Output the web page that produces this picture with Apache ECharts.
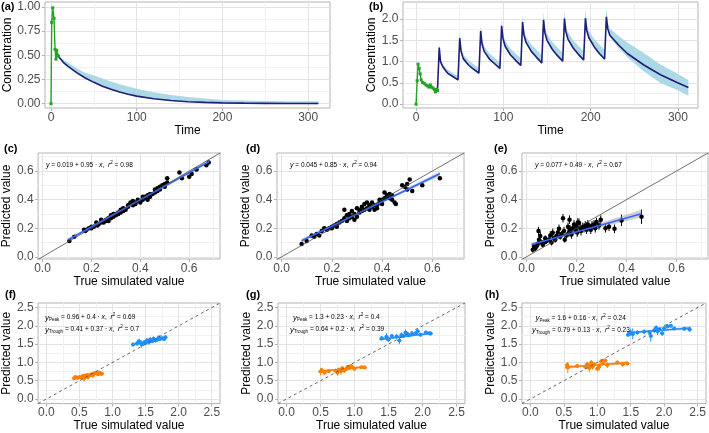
<!DOCTYPE html>
<html><head><meta charset="utf-8">
<script src="https://cdn.jsdelivr.net/npm/echarts@6/dist/echarts.min.js"></script>
<style>html,body{margin:0;padding:0;background:#fff}#c{width:709px;height:433px}</style>
</head><body><div id="c"></div>
<script>
const FONT = '"Liberation Sans", Arial, Helvetica, sans-serif';

// ---------------- DATA ----------------
// (a) single dose
const A_GREEN_T = [0, 0.8, 2, 3.5, 4.7, 5.8, 6.6, 7.8, 8.6];
const A_GREEN_C = [0, 0.84, 0.99, 0.88, 0.56, 0.46, 0.55, 0.50, 0.49];
const A_T    = [8.6, 15, 20, 30, 40, 50, 60, 70, 80, 90, 100, 120, 140, 160, 180, 200, 225, 250, 275, 300, 312];
const A_MEAN = [0.49, 0.42, 0.385, 0.32, 0.265, 0.22, 0.18, 0.148, 0.12, 0.097, 0.078, 0.05, 0.032, 0.02, 0.013, 0.008, 0.005, 0.003, 0.002, 0.001, 0.001];
const A_LO   = [0.48, 0.41, 0.375, 0.31, 0.255, 0.212, 0.172, 0.14, 0.113, 0.091, 0.072, 0.045, 0.027, 0.016, 0.009, 0.005, 0.002, 0.0, -0.002, -0.003, -0.003];
const A_HI   = [0.49, 0.45, 0.425, 0.365, 0.32, 0.29, 0.26, 0.228, 0.2, 0.176, 0.153, 0.118, 0.09, 0.068, 0.052, 0.038, 0.032, 0.028, 0.026, 0.025, 0.025];

// (b) multiple doses
const B_GREEN_T = [0, 1.2, 2.3, 3.5, 4.7, 5.8, 7.4, 9.3, 11.3, 13.2, 14.8, 16.3, 17.9, 19.5, 21, 22.2, 23.5, 24.5];
const B_GREEN_C = [0, 0.55, 0.94, 0.84, 0.71, 0.57, 0.51, 0.49, 0.45, 0.43, 0.40, 0.45, 0.40, 0.375, 0.34, 0.29, 0.35, 0.32];
const B_T = [24.5,26.5,28,30.5,36,42, 48,50,51.5,54,60,66, 72,74,75.5,78,84,90, 96,98,99.5,102,108,114,
             120,122,123.5,126,132,138, 144,146,147.5,150,156,162, 168,170,171.5,174,180,186,
             192,194,195.5,198,204,210, 216,218,219.5,222,232,242,261,280,299,312];
const B_MEAN = [0.32,1.33,1.00,0.88,0.73,0.65, 0.57,1.55,1.25,1.07,0.92,0.82, 0.73,1.72,1.42,1.24,1.06,0.95,
                0.84,1.84,1.55,1.36,1.16,1.03, 0.91,1.93,1.63,1.45,1.24,1.10, 0.97,1.98,1.68,1.50,1.29,1.14,
                1.01,2.01,1.71,1.53,1.32,1.17, 1.04,2.02,1.73,1.56,1.35,1.19, 1.06,2.05,1.78,1.62,1.39,1.19,0.92,0.69,0.51,0.39];
const B_LO = [0.31,1.30,0.98,0.86,0.71,0.63, 0.55,1.52,1.23,1.05,0.90,0.80, 0.70,1.69,1.40,1.22,1.04,0.93,
              0.81,1.80,1.53,1.34,1.14,1.00, 0.88,1.89,1.61,1.43,1.21,1.07, 0.93,1.94,1.66,1.48,1.26,1.11,
              0.97,1.97,1.69,1.51,1.29,1.14, 1.00,1.98,1.71,1.54,1.32,1.16, 1.02,2.01,1.75,1.57,1.32,1.10,0.77,0.50,0.33,0.20];
const B_HI = [0.33,1.43,1.07,0.95,0.81,0.73, 0.66,1.67,1.34,1.17,1.03,0.94, 0.85,1.86,1.53,1.36,1.19,1.09,
              0.98,2.00,1.67,1.49,1.31,1.19, 1.07,2.11,1.77,1.59,1.40,1.28, 1.15,2.17,1.83,1.65,1.46,1.33,
              1.20,2.22,1.87,1.69,1.50,1.37, 1.24,2.25,1.90,1.72,1.53,1.40, 1.27,2.29,1.94,1.78,1.60,1.45,1.20,0.93,0.72,0.57];

// (c) points [true, predicted]
const C_PTS = [[0.11,0.11],[0.13,0.14],[0.17,0.19],[0.175,0.18],[0.18,0.19],[0.19,0.2],[0.2,0.21],[0.2,0.2],[0.21,0.21],
 [0.22,0.24],[0.225,0.22],[0.23,0.23],[0.24,0.26],[0.24,0.24],[0.25,0.25],[0.25,0.24],[0.26,0.26],[0.26,0.25],[0.27,0.25],
 [0.27,0.27],[0.28,0.27],[0.28,0.29],[0.29,0.3],[0.29,0.28],[0.3,0.3],[0.3,0.29],[0.31,0.31],[0.31,0.3],[0.32,0.33],[0.32,0.31],
 [0.33,0.32],[0.33,0.34],[0.34,0.33],[0.35,0.35],[0.35,0.36],[0.36,0.37],[0.36,0.38],[0.37,0.36],[0.37,0.39],[0.38,0.37],
 [0.38,0.38],[0.39,0.4],[0.39,0.39],[0.4,0.38],[0.4,0.39],[0.41,0.4],[0.41,0.42],[0.42,0.42],[0.42,0.41],[0.43,0.43],[0.43,0.4],
 [0.44,0.42],[0.44,0.44],[0.45,0.44],[0.46,0.45],[0.46,0.47],[0.47,0.46],[0.47,0.48],[0.48,0.47],[0.48,0.49],[0.49,0.5],
 [0.5,0.5],[0.5,0.49],[0.5,0.51],[0.51,0.52],[0.51,0.55],[0.56,0.59],[0.57,0.55],[0.6,0.56],[0.61,0.58],[0.63,0.61],[0.67,0.64],[0.68,0.66]];
const C_ERR = 0.008;
const C_FIT = [[0.105,0.12],[0.682,0.667]];
const C_BAND = [[0.105,0.11,0.13],[0.39,0.386,0.394],[0.682,0.656,0.678]];

// (d)
const D_PTS = [[0.08,0.09],[0.1,0.11],[0.12,0.15],[0.13,0.14],[0.14,0.16],[0.15,0.15],[0.16,0.18],[0.17,0.2],[0.18,0.19],
 [0.19,0.2],[0.2,0.21],[0.2,0.2],[0.21,0.22],[0.22,0.21],[0.22,0.23],[0.23,0.24],[0.24,0.25],[0.25,0.33],[0.25,0.27],[0.26,0.29],
 [0.26,0.25],[0.27,0.27],[0.27,0.3],[0.28,0.32],[0.28,0.28],[0.29,0.26],[0.29,0.3],[0.3,0.34],[0.3,0.28],[0.31,0.31],[0.31,0.33],
 [0.32,0.35],[0.32,0.32],[0.33,0.37],[0.33,0.33],[0.34,0.38],[0.34,0.34],[0.35,0.36],[0.35,0.33],[0.36,0.35],[0.36,0.38],
 [0.37,0.36],[0.37,0.33],[0.38,0.36],[0.38,0.34],[0.39,0.38],[0.39,0.4],[0.4,0.4],[0.4,0.37],[0.41,0.45],[0.41,0.41],[0.42,0.43],
 [0.42,0.42],[0.43,0.44],[0.43,0.41],[0.44,0.4],[0.44,0.43],[0.45,0.38],[0.455,0.37],[0.48,0.5],[0.49,0.49],[0.5,0.47],
 [0.5,0.51],[0.51,0.54],[0.52,0.46],[0.56,0.5],[0.63,0.55]];
const D_ERR = 0.01;
const D_FIT = [[0.08,0.113],[0.63,0.581]];
const D_BAND = [[0.08,0.1,0.126],[0.35,0.337,0.347],[0.63,0.565,0.597]];

// (e) [true, predicted, half error]
const E_PTS = [[0.025,0.05,0.02],[0.03,0.07,0.02],[0.035,0.06,0.02],[0.04,0.075,0.02],[0.045,0.09,0.02],[0.048,0.18,0.03],
 [0.05,0.12,0.02],[0.055,0.145,0.03],[0.06,0.1,0.02],[0.065,0.085,0.02],[0.07,0.1,0.02],[0.075,0.13,0.02],[0.08,0.11,0.02],
 [0.09,0.12,0.02],[0.095,0.15,0.03],[0.1,0.1,0.02],[0.105,0.168,0.03],[0.11,0.13,0.02],[0.115,0.12,0.02],[0.12,0.145,0.02],
 [0.125,0.17,0.03],[0.13,0.196,0.03],[0.135,0.14,0.02],[0.14,0.16,0.02],[0.146,0.27,0.03],[0.15,0.18,0.03],[0.153,0.12,0.02],
 [0.16,0.15,0.02],[0.166,0.21,0.03],[0.17,0.17,0.03],[0.172,0.26,0.03],[0.175,0.19,0.03],[0.18,0.157,0.03],[0.185,0.2,0.03],
 [0.19,0.227,0.03],[0.195,0.19,0.03],[0.2,0.21,0.03],[0.203,0.17,0.03],[0.205,0.24,0.03],[0.21,0.238,0.03],[0.215,0.2,0.03],
 [0.218,0.18,0.03],[0.225,0.21,0.03],[0.23,0.2,0.03],[0.235,0.22,0.03],[0.24,0.19,0.03],[0.245,0.227,0.03],[0.25,0.21,0.03],
 [0.257,0.19,0.03],[0.262,0.22,0.03],[0.27,0.227,0.03],[0.275,0.2,0.03],[0.28,0.243,0.03],[0.29,0.22,0.03],[0.297,0.26,0.03],
 [0.316,0.2,0.03],[0.33,0.21,0.03],[0.352,0.196,0.03],[0.38,0.255,0.04],[0.46,0.28,0.05]];
const E_FIT = [[0.02,0.087],[0.46,0.302]];
const E_BAND = [[0.02,0.074,0.1],[0.17,0.154,0.166],[0.46,0.275,0.329]];

// (f)-(h) [true, predicted, x half error, y half error]
const F_TROUGH = [[0.42,0.57,0.03,0.05],[0.44,0.6,0.03,0.06],[0.47,0.58,0.03,0.04],[0.5,0.6,0.03,0.05],[0.53,0.59,0.03,0.05],
 [0.55,0.63,0.03,0.06],[0.57,0.57,0.03,0.1],[0.58,0.64,0.03,0.05],[0.6,0.62,0.03,0.06],[0.62,0.66,0.03,0.05],[0.63,0.6,0.03,0.07],
 [0.65,0.65,0.03,0.05],[0.68,0.67,0.03,0.06],[0.7,0.64,0.03,0.05],[0.72,0.7,0.03,0.05],[0.75,0.71,0.03,0.06],[0.78,0.68,0.03,0.05],
 [0.8,0.72,0.03,0.05],[0.82,0.7,0.03,0.06],[0.84,0.69,0.03,0.05]];
const F_PEAK = [[1.31,1.49,0.03,0.05],[1.37,1.52,0.03,0.06],[1.4,1.58,0.03,0.07],[1.44,1.5,0.03,0.1],[1.48,1.55,0.03,0.05],
 [1.5,1.53,0.03,0.06],[1.52,1.6,0.03,0.06],[1.55,1.56,0.03,0.08],[1.57,1.63,0.03,0.06],[1.6,1.58,0.03,0.05],[1.62,1.65,0.03,0.06],
 [1.65,1.6,0.03,0.05],[1.68,1.63,0.03,0.06],[1.7,1.68,0.03,0.06],[1.72,1.64,0.03,0.05],[1.75,1.66,0.03,0.05],[1.78,1.64,0.03,0.06],[1.8,1.69,0.03,0.05]];
const F_TROUGH_FIT = [[0.42,0.57],[0.84,0.72]];
const F_TROUGH_BAND = [[0.42,0.55,0.59],[0.63,0.638,0.652],[0.84,0.70,0.74]];
const F_PEAK_FIT = [[1.31,1.48],[1.81,1.68]];
const F_PEAK_BAND = [[1.31,1.455,1.505],[1.56,1.572,1.588],[1.81,1.655,1.705]];

const G_TROUGH = [[0.5,0.75,0.03,0.1],[0.52,0.79,0.03,0.06],[0.56,0.72,0.03,0.06],[0.62,0.76,0.03,0.05],[0.72,0.77,0.03,0.06],
 [0.75,0.72,0.03,0.08],[0.77,0.8,0.03,0.06],[0.8,0.76,0.03,0.1],[0.82,0.84,0.03,0.06],[0.85,0.78,0.03,0.07],[0.88,0.82,0.03,0.05],
 [0.9,0.87,0.03,0.06],[0.92,0.84,0.03,0.05],[0.95,0.9,0.03,0.06],[0.97,0.86,0.03,0.05],[1.0,0.83,0.03,0.05],[1.1,0.87,0.03,0.05],[1.15,0.86,0.03,0.04]];
const G_PEAK = [[1.4,1.66,0.03,0.06],[1.47,1.7,0.03,0.1],[1.5,1.63,0.03,0.07],[1.55,1.72,0.03,0.05],[1.62,1.71,0.03,0.06],
 [1.66,1.6,0.03,0.1],[1.69,1.75,0.03,0.07],[1.72,1.72,0.03,0.05],[1.75,1.82,0.03,0.08],[1.78,1.78,0.03,0.06],[1.8,1.74,0.03,0.05],
 [1.85,1.78,0.03,0.06],[1.9,1.8,0.03,0.05],[1.93,1.85,0.03,0.06],[1.97,1.76,0.03,0.05],[2.05,1.82,0.03,0.05],[2.1,1.8,0.03,0.04],[2.12,1.79,0.03,0.05]];
const G_TROUGH_FIT = [[0.49,0.76],[1.16,0.88]];
const G_TROUGH_BAND = [[0.49,0.72,0.80],[0.825,0.81,0.83],[1.16,0.84,0.92]];
const G_PEAK_FIT = [[1.37,1.63],[2.13,1.8]];
const G_PEAK_BAND = [[1.37,1.59,1.67],[1.75,1.705,1.725],[2.13,1.76,1.84]];

const H_TROUGH = [[0.55,0.93,0.03,0.08],[0.56,0.86,0.03,0.15],[0.7,0.9,0.03,0.05],[0.82,0.88,0.03,0.06],[0.85,0.95,0.03,0.07],
 [0.88,0.85,0.03,0.12],[0.9,0.92,0.03,0.06],[0.91,1.0,0.03,0.06],[0.93,0.88,0.03,0.08],[0.95,0.95,0.03,0.06],[1.0,0.83,0.03,0.07],
 [1.03,0.88,0.03,0.1],[1.06,1.03,0.03,0.05],[1.08,0.98,0.03,0.06],[1.12,1.05,0.03,0.05],[1.15,0.93,0.03,0.08],[1.3,1.0,0.03,0.05],
 [1.38,0.95,0.03,0.06],[1.45,0.97,0.03,0.05]];
const H_PEAK = [[1.46,1.76,0.03,0.06],[1.5,1.82,0.03,0.1],[1.53,1.78,0.03,0.15],[1.6,1.82,0.03,0.05],[1.7,1.84,0.03,0.06],
 [1.78,1.83,0.03,0.05],[1.8,1.72,0.03,0.15],[1.85,1.88,0.03,0.07],[1.88,1.95,0.03,0.06],[1.9,1.85,0.03,0.1],[1.93,1.9,0.03,0.06],
 [1.97,1.8,0.03,0.08],[2.0,1.93,0.03,0.06],[2.05,1.99,0.03,0.06],[2.1,2.0,0.03,0.05],[2.15,1.93,0.03,0.05],[2.3,1.92,0.03,0.05],[2.38,1.9,0.03,0.06]];
const H_TROUGH_FIT = [[0.52,0.87],[1.44,0.99]];
const H_TROUGH_BAND = [[0.52,0.82,0.92],[0.98,0.915,0.945],[1.44,0.94,1.04]];
const H_PEAK_FIT = [[1.45,1.81],[2.4,1.94]];
const H_PEAK_BAND = [[1.45,1.76,1.86],[1.925,1.86,1.89],[2.4,1.89,1.99]];

// tick values
const TIME_TICKS = [0, 100, 200, 300], TIME_MINOR = [50, 150, 250];
const A_CONC_TICKS = [0, 0.25, 0.5, 0.75, 1], A_CONC_MINOR = [0.125, 0.375, 0.625, 0.875];
const B_CONC_TICKS = [0, 0.5, 1, 1.5, 2], B_CONC_MINOR = [0.25, 0.75, 1.25, 1.75, 2.25];
const MID_TICKS = [0, 0.2, 0.4, 0.6], MID_MINOR = [0.1, 0.3, 0.5, 0.7];
const LOW_TICKS = [0, 0.5, 1, 1.5, 2, 2.5], LOW_MINOR = [0.25, 0.75, 1.25, 1.75, 2.25];

// ---------------- LAYOUT ----------------
const MID_R = [-0.018, 0.726], LOW_R = [-0.125, 2.625];
const P = [
 {id:'a', g:[45,2,285,106], x:[-7,325.5], y:[-0.045,1.05], xt:TIME_TICKS, xm:TIME_MINOR, yt:A_CONC_TICKS, ym:A_CONC_MINOR, xd:0, yd:2, xn:'Time', yn:'Concentration', xg:11, yg:30, lab:[1,1]},
 {id:'b', g:[403,2,295,106], x:[-15,323], y:[-0.09,2.4], xt:TIME_TICKS, xm:TIME_MINOR, yt:B_CONC_TICKS, ym:B_CONC_MINOR, xd:0, yd:1, xn:'Time', yn:'Concentration', xg:11, yg:18, lab:[369,1]},
 {id:'c', g:[32,153,188,106], x:MID_R, y:[-0.015,0.726], xt:MID_TICKS, xm:MID_MINOR, yt:MID_TICKS, ym:MID_MINOR, xd:1, yd:1, xn:'True simulated value', yn:'Predicted value', xg:11, yg:16.5, lab:[4,143]},
 {id:'d', g:[277,153,187,106], x:MID_R, y:[-0.015,0.726], xt:MID_TICKS, xm:MID_MINOR, yt:MID_TICKS, ym:MID_MINOR, xd:1, yd:1, xn:'True simulated value', yn:'Predicted value', xg:11, yg:17, lab:[246,143]},
 {id:'e', g:[522,153,186,106], x:MID_R, y:[-0.015,0.726], xt:MID_TICKS, xm:MID_MINOR, yt:MID_TICKS, ym:MID_MINOR, xd:1, yd:1, xn:'True simulated value', yn:'Predicted value', xg:11, yg:17.5, lab:[494,143]},
 {id:'f', g:[33,303,187,108], x:LOW_R, y:LOW_R, xt:LOW_TICKS, xm:LOW_MINOR, yt:LOW_TICKS, ym:LOW_MINOR, xd:1, yd:1, xn:'True simulated value', yn:'Predicted value', xg:15, yg:18.5, lab:[5,289]},
 {id:'g', g:[278,303,187,108], x:LOW_R, y:LOW_R, xt:LOW_TICKS, xm:LOW_MINOR, yt:LOW_TICKS, ym:LOW_MINOR, xd:1, yd:1, xn:'True simulated value', yn:'Predicted value', xg:15, yg:18, lab:[246,289]},
 {id:'h', g:[522,303,186,108], x:LOW_R, y:LOW_R, xt:LOW_TICKS, xm:LOW_MINOR, yt:LOW_TICKS, ym:LOW_MINOR, xd:1, yd:1, xn:'True simulated value', yn:'Predicted value', xg:15, yg:18, lab:[485,289]}
];

const zip = (...arrs) => arrs[0].map((_, k) => arrs.map(a => a[k]));

function mainAxis(gi, r, ticks, dec, name, gap, pos) {
  return {type:'value', gridIndex:gi, position:pos, min:r[0], max:r[1],
    axisLine:{show:false, onZero:false},
    axisTick:{show:true, length:3, customValues:ticks, lineStyle:{color:'#b3b3b3', width:1}},
    axisLabel:{show:true, customValues:ticks, formatter:v => Number(v).toFixed(dec), color:'#4d4d4d', fontSize:12, fontFamily:FONT, margin: pos === 'left' ? 4.5 : 3.5},
    splitLine:{show:true, lineStyle:{color:'#e3e3e3', width:1}},
    minorTick:{show:false}, minorSplitLine:{show:false},
    name:name, nameLocation:'middle', nameGap:gap,
    nameTextStyle:{color:'#000', fontSize:12, fontFamily:FONT}};
}
function minorAxis(gi, r, vals, pos) {
  return {type:'value', gridIndex:gi, position:pos, min:r[0], max:r[1],
    axisLine:{show:false, onZero:false},
    axisTick:{show:false, customValues:vals},
    axisLabel:{show:false, customValues:vals},
    splitLine:{show:true, lineStyle:{color:'#f1f1f1', width:1}}};
}

const grid = [], xAxis = [], yAxis = [], series = [], graphic = [];
P.forEach((p, i) => {
  grid.push({left:p.g[0], top:p.g[1], width:p.g[2], height:p.g[3], show:true, borderColor:'#b3b3b3', borderWidth:1, backgroundColor:'#fff'});
  xAxis.push(mainAxis(i, p.x, p.xt, p.xd, p.xn, p.xg, 'bottom'));
  xAxis.push(minorAxis(i, p.x, p.xm, 'top'));
  yAxis.push(mainAxis(i, p.y, p.yt, p.yd, p.yn, p.yg, 'left'));
  yAxis.push(minorAxis(i, p.y, p.ym, 'right'));
  graphic.push({type:'text', x:p.lab[0], y:p.lab[1], style:{text:'(' + p.id + ')', fontSize:11, fontWeight:'bold', fontFamily:FONT, fill:'#000'}});
});

function band(gi, rows, color) {
  return {type:'custom', xAxisIndex:2*gi, yAxisIndex:2*gi, data:rows, silent:true, clip:true,
    encode:{x:0, y:[1,2]},
    renderItem:(params, api) => {
      if (params.dataIndex !== 0) return null;
      const up = rows.map(r => api.coord([r[0], r[2]]));
      const dn = rows.map(r => api.coord([r[0], r[1]])).reverse();
      return {type:'polygon', shape:{points:up.concat(dn)}, style:{fill:color}};
    }};
}
function line(gi, pts, color, width, extra) {
  return Object.assign({type:'line', xAxisIndex:2*gi, yAxisIndex:2*gi, data:pts, symbol:'none', showSymbol:false,
    lineStyle:{color:color, width:width}, itemStyle:{color:color}, silent:true, z:3}, extra || {});
}
function points(gi, pts, color, size) {
  return {type:'scatter', xAxisIndex:2*gi, yAxisIndex:2*gi, data:pts, symbolSize:size, itemStyle:{color:color, opacity:1}, silent:true, z:3};
}
function yErr(gi, pts, color, constHalf) {
  return {type:'custom', xAxisIndex:2*gi, yAxisIndex:2*gi, data:pts, silent:true, clip:true, z:2,
    renderItem:(params, api) => {
      const x = api.value(0), y = api.value(1);
      const e = constHalf != null ? constHalf : api.value(2);
      const a = api.coord([x, y - e]), b = api.coord([x, y + e]);
      return {type:'line', shape:{x1:a[0], y1:a[1], x2:b[0], y2:b[1]}, style:{stroke:color, lineWidth:1}};
    }};
}
function xyErr(gi, pts, color) {
  return {type:'custom', xAxisIndex:2*gi, yAxisIndex:2*gi, data:pts, silent:true, clip:true, z:2,
    renderItem:(params, api) => {
      const x = api.value(0), y = api.value(1), ex = api.value(2), ey = api.value(3);
      const a = api.coord([x, y - ey]), b = api.coord([x, y + ey]);
      const c = api.coord([x - ex, y]), d = api.coord([x + ex, y]);
      return {type:'group', children:[
        {type:'line', shape:{x1:a[0], y1:a[1], x2:b[0], y2:b[1]}, style:{stroke:color, lineWidth:1}},
        {type:'line', shape:{x1:c[0], y1:c[1], x2:d[0], y2:d[1]}, style:{stroke:color, lineWidth:1}}]};
    }};
}
function identity(gi, r, dashed) {
  return line(gi, [[r[0], r[0]], [r[1], r[1]]], dashed ? '#555' : '#4d4d4d', dashed ? 0.9 : 0.8,
    {lineStyle:{color: dashed ? '#555' : '#4d4d4d', width: dashed ? 0.9 : 0.8, type: dashed ? [3, 3] : 'solid'}, z:5});
}

const NAVY = '#1f1f78', LIGHTBLUE = '#add8e6', GREEN = '#22a322';
const FITBLUE = '#3366ff', CIGRAY = 'rgba(150,150,150,0.45)';
const ORANGE = '#ff8000', BLUE = '#1e90ff';

// (a)
series.push(band(0, zip(A_T, A_LO, A_HI), LIGHTBLUE));
series.push(line(0, zip(A_T, A_MEAN), NAVY, 1.6));
series.push(line(0, zip(A_GREEN_T, A_GREEN_C), GREEN, 1.4, {symbol:'rect', showSymbol:true, symbolSize:3}));
// (b)
series.push(band(1, zip(B_T, B_LO, B_HI), LIGHTBLUE));
series.push(line(1, zip(B_T, B_MEAN), NAVY, 1.6));
series.push(line(1, zip(B_GREEN_T, B_GREEN_C), GREEN, 1.4, {symbol:'rect', showSymbol:true, symbolSize:3}));
// (c)(d)(e)
[[2, C_PTS, C_ERR, C_FIT, C_BAND], [3, D_PTS, D_ERR, D_FIT, D_BAND], [4, E_PTS, null, E_FIT, E_BAND]].forEach(([gi, pts, err, fit, bd]) => {
  series.push(yErr(gi, pts, '#000', err));
  series.push(points(gi, pts, '#000', 4.5));
  series.push(band(gi, bd, CIGRAY));
  series.push(line(gi, fit, FITBLUE, 1.6, {z:4}));
  series.push(identity(gi, [-0.05, 0.8], false));
});
// (f)(g)(h)
[[5, F_TROUGH, F_PEAK, F_TROUGH_FIT, F_TROUGH_BAND, F_PEAK_FIT, F_PEAK_BAND],
 [6, G_TROUGH, G_PEAK, G_TROUGH_FIT, G_TROUGH_BAND, G_PEAK_FIT, G_PEAK_BAND],
 [7, H_TROUGH, H_PEAK, H_TROUGH_FIT, H_TROUGH_BAND, H_PEAK_FIT, H_PEAK_BAND]].forEach(([gi, tr, pk, tf, tb, pf, pb]) => {
  series.push(xyErr(gi, tr, ORANGE));
  series.push(xyErr(gi, pk, BLUE));
  series.push(points(gi, tr, ORANGE, 4));
  series.push(points(gi, pk, BLUE, 4));
  series.push(band(gi, tb, CIGRAY));
  series.push(band(gi, pb, CIGRAY));
  series.push(line(gi, tf, ORANGE, 1.5, {z:4}));
  series.push(line(gi, pf, BLUE, 1.5, {z:4}));
  series.push(identity(gi, LOW_R, true));
});

// equations
const RICH = {
  i:{fontStyle:'italic', fontSize:7, fontFamily:FONT, fill:'#000'},
  I:{fontStyle:'italic', fontSize:8, fontFamily:FONT, fill:'#000'},
  s:{fontSize:4.5, fontFamily:FONT, fill:'#000', verticalAlign:'bottom', lineHeight:6},
  p:{fontSize:4.5, fontFamily:FONT, fill:'#000', verticalAlign:'top', lineHeight:6}
};
function eq(x, y, text, size) {
  graphic.push({type:'text', x:x, y:y, z:50, style:{text:text, rich:RICH, fontSize:size, fontFamily:FONT, fill:'#000', align:'left', verticalAlign:'middle', lineHeight:10}});
}
eq(46, 165, '{i|y} = 0.019 + 0.95 · {i|x},  {i|r}{p|2} = 0.98', 6.5);
eq(290, 165, '{i|y} = 0.045 + 0.85 · {i|x},  {i|r}{p|2} = 0.94', 6.5);
eq(535, 165, '{i|y} = 0.077 + 0.49 · {i|x},  {i|r}{p|2} = 0.67', 6.5);
eq(45, 317.5, '{I|y}{s|Peak} = 0.96 + 0.4 · {i|x},  {i|r}{p|2} = 0.69', 6.5);
eq(45, 329.5, '{I|y}{s|Trough} = 0.41 + 0.37 · {i|x},  {i|r}{p|2} = 0.7', 6.5);
eq(293, 317.5, '{I|y}{s|Peak} = 1.3 + 0.23 · {i|x},  {i|r}{p|2} = 0.4', 6.5);
eq(290, 329.5, '{I|y}{s|Trough} = 0.64 + 0.2 · {i|x},  {i|r}{p|2} = 0.39', 6.5);
eq(535.5, 318, '{I|y}{s|Peak} = 1.6 + 0.16 · {i|x},  {i|r}{p|2} = 0.24', 6.5);
eq(532, 330, '{I|y}{s|Trough} = 0.79 + 0.13 · {i|x},  {i|r}{p|2} = 0.23', 6.5);

const chart = echarts.init(document.getElementById('c'), null, {renderer:'canvas', width:709, height:433});
chart.setOption({animation:false, backgroundColor:'#fff', textStyle:{fontFamily:FONT}, grid, xAxis, yAxis, series, graphic});
</script></body></html>
